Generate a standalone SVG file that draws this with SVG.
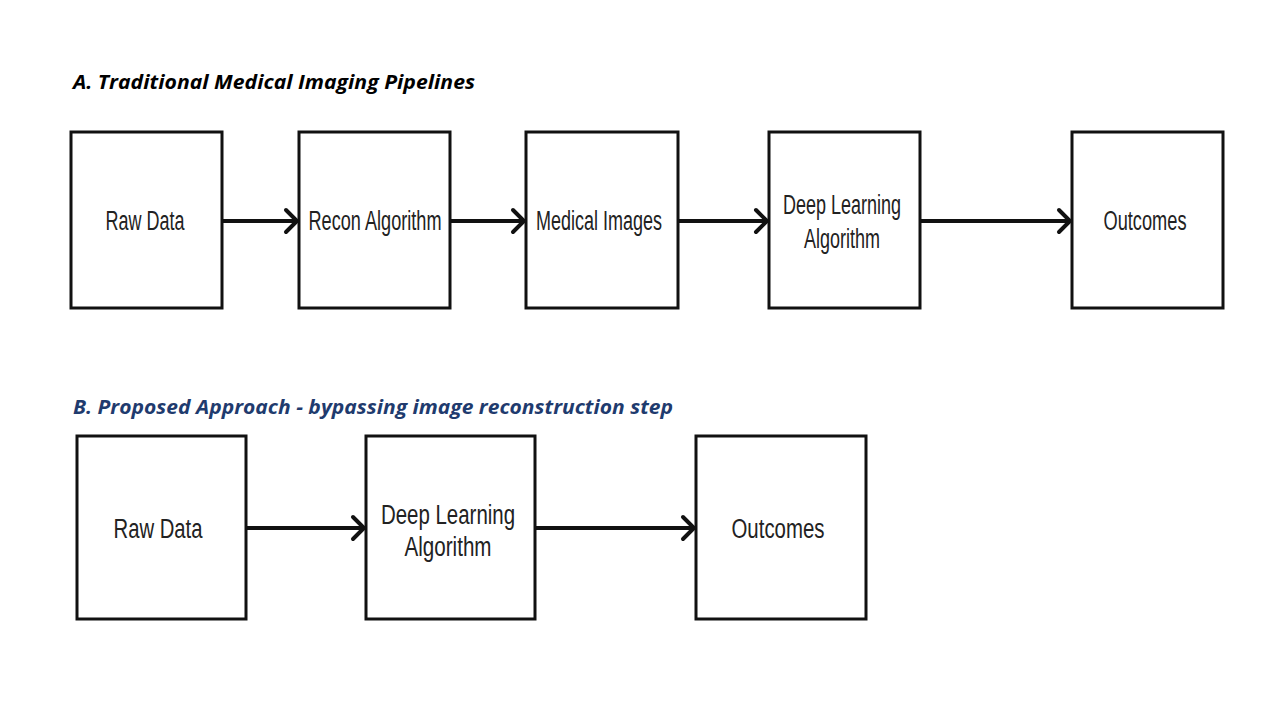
<svg xmlns="http://www.w3.org/2000/svg" width="1280" height="720" viewBox="0 0 1280 720">
<defs>
<style>
.box{fill:#fff;stroke:#111;stroke-width:3}
.lbl{font-family:"Liberation Sans",Arial,sans-serif;font-size:27px;fill:#222;text-anchor:middle}
.ttl{font-family:"Open Sans","Liberation Sans",sans-serif;font-size:19px;font-weight:bold;font-style:italic}
.ln{stroke:#111;stroke-width:4;fill:none}
.hd{stroke:#111;stroke-width:4;fill:none;stroke-linecap:round;stroke-linejoin:miter}
</style>
</defs>
<rect width="1280" height="720" fill="#fff"/>
<text class="ttl" x="73" y="89" fill="#000" textLength="402" lengthAdjust="spacingAndGlyphs">A. Traditional Medical Imaging Pipelines</text>
<text class="ttl" x="73" y="414" fill="#1f3b6e" textLength="600" lengthAdjust="spacingAndGlyphs">B. Proposed Approach - bypassing image reconstruction step</text>

<g id="connectors">
<line class="ln" x1="222" y1="221" x2="295" y2="221"/><polyline class="hd" points="286,210 297,221 286,232"/>
<line class="ln" x1="450" y1="221" x2="522" y2="221"/><polyline class="hd" points="513,210 524,221 513,232"/>
<line class="ln" x1="678" y1="221" x2="765" y2="221"/><polyline class="hd" points="756,210 767,221 756,232"/>
<line class="ln" x1="920" y1="221" x2="1068" y2="221"/><polyline class="hd" points="1059,210 1070,221 1059,232"/>
<line class="ln" x1="246" y1="528" x2="362" y2="528"/><polyline class="hd" points="353,517 364,528 353,539"/>
<line class="ln" x1="535" y1="528" x2="692" y2="528"/><polyline class="hd" points="683,517 694,528 683,539"/>
</g>

<g id="a-raw"><rect class="box" x="71" y="132" width="151" height="176"/><text class="lbl" x="145" y="230" textLength="79" lengthAdjust="spacingAndGlyphs">Raw Data</text></g>
<g id="a-recon"><rect class="box" x="299" y="132" width="151" height="176"/><text class="lbl" x="375" y="230" textLength="133" lengthAdjust="spacingAndGlyphs">Recon Algorithm</text></g>
<g id="a-images"><rect class="box" x="526" y="132" width="152" height="176"/><text class="lbl" x="599" y="230" textLength="126" lengthAdjust="spacingAndGlyphs">Medical Images</text></g>
<g id="a-dl"><rect class="box" x="769" y="132" width="151" height="176"/><text class="lbl" x="842" y="214" textLength="118" lengthAdjust="spacingAndGlyphs">Deep Learning</text><text class="lbl" x="842" y="248" textLength="76" lengthAdjust="spacingAndGlyphs">Algorithm</text></g>
<g id="a-out"><rect class="box" x="1072" y="132" width="151" height="176"/><text class="lbl" x="1145" y="230" textLength="83" lengthAdjust="spacingAndGlyphs">Outcomes</text></g>

<g id="b-raw"><rect class="box" x="77" y="436" width="169" height="183"/><text class="lbl" x="158" y="538" textLength="89" lengthAdjust="spacingAndGlyphs">Raw Data</text></g>
<g id="b-dl"><rect class="box" x="366" y="436" width="169" height="183"/><text class="lbl" x="448" y="524" textLength="134" lengthAdjust="spacingAndGlyphs">Deep Learning</text><text class="lbl" x="448" y="556" textLength="87" lengthAdjust="spacingAndGlyphs">Algorithm</text></g>
<g id="b-out"><rect class="box" x="696" y="436" width="170" height="183"/><text class="lbl" x="778" y="538" textLength="93" lengthAdjust="spacingAndGlyphs">Outcomes</text></g>
</svg>
